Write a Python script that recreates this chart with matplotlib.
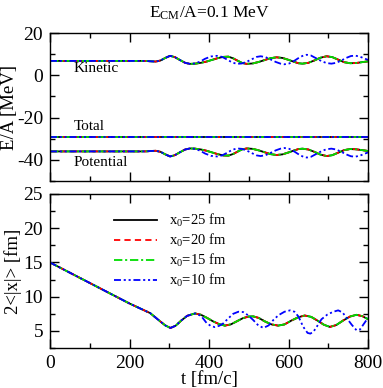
import matplotlib
matplotlib.use("Agg")
import matplotlib.pyplot as plt
from matplotlib.ticker import MultipleLocator

# ---- data ----
# energies per nucleon (top panel); x0 = 25, 20, 15 fm coincide
t_e = [0, 240, 255, 266, 278, 290, 302, 314, 327, 340,
       352, 365, 380, 394, 408, 422, 436, 449, 461, 473,
       484, 495, 510, 525, 540, 555, 570, 585, 600, 615,
       625, 635, 650, 665, 680, 696, 710, 725, 740, 755,
       770, 785, 800]
kin_25 = [6.8, 6.8, 6.6, 6.5, 7.0, 8.2, 9.2, 8.6, 7.2, 5.9,
          5.4, 5.5, 5.9, 6.5, 7.3, 8.1, 8.7, 8.8, 8.0, 6.8,
          5.8, 5.4, 5.6, 6.3, 7.2, 8.1, 8.5, 8.2, 7.3, 6.3,
          5.7, 5.5, 5.9, 7.0, 8.3, 9.0, 8.6, 7.4, 6.2, 5.7,
          5.8, 6.2, 6.6]
pot_25 = [-36.0, -36.0, -35.8, -35.7, -36.2, -37.4, -38.4, -37.8, -36.4, -35.1,
          -34.6, -34.7, -35.1, -35.7, -36.5, -37.3, -37.9, -38.0, -37.2, -36.0,
          -35.0, -34.6, -34.8, -35.5, -36.4, -37.3, -37.7, -37.4, -36.5, -35.5,
          -34.9, -34.7, -35.1, -36.2, -37.5, -38.2, -37.8, -36.6, -35.4, -34.9,
          -35.0, -35.4, -35.8]
kin_20, pot_20 = kin_25, pot_25
kin_15, pot_15 = kin_25, pot_25

t_e10 = [0, 240, 255, 266, 278, 290, 302, 314, 327, 340,
         352, 365, 378, 390, 405, 420, 433, 445, 458, 470,
         483, 496, 510, 520, 530, 542, 555, 568, 580, 590,
         602, 615, 628, 638, 646, 656, 668, 682, 695, 708,
         720, 733, 745, 757, 768, 780, 790, 800]
kin_10 = [6.8, 6.8, 6.6, 6.5, 7.0, 8.2, 9.2, 8.6, 7.2, 5.9,
          5.4, 5.6, 6.5, 7.8, 8.9, 9.2, 8.7, 7.5, 6.1, 5.4,
          5.6, 6.5, 7.8, 8.7, 9.0, 8.6, 7.5, 6.3, 5.5, 5.2,
          5.6, 6.9, 8.5, 9.4, 9.7, 9.4, 8.2, 6.8, 5.8, 5.5,
          5.9, 7.0, 8.2, 9.1, 9.3, 8.8, 8.0, 7.3]
pot_10 = [-36.0, -36.0, -35.8, -35.7, -36.2, -37.4, -38.4, -37.8, -36.4, -35.1,
          -34.6, -34.8, -35.7, -37.0, -38.1, -38.4, -37.9, -36.7, -35.3, -34.6,
          -34.8, -35.7, -37.0, -37.9, -38.2, -37.8, -36.7, -35.5, -34.7, -34.4,
          -34.8, -36.1, -37.7, -38.6, -38.9, -38.6, -37.4, -36.0, -35.0, -34.7,
          -35.1, -36.2, -37.4, -38.3, -38.5, -38.0, -37.2, -36.5]

t_tot = [0, 800]
tot = [-29.2, -29.2]

# 2<|x|> (bottom panel)
t_r = [0, 100, 200, 226, 252, 277, 290, 303, 316, 330,
       345, 365, 380, 395, 410, 425, 440, 455, 470, 485,
       500, 511, 525, 540, 557, 574, 590, 607, 625, 641,
       657, 673, 689, 704, 720, 737, 755, 771, 786, 800]
r_25 = [15.0, 12.0, 9.0, 8.3, 7.6, 6.4, 5.8, 5.43, 5.75, 6.5,
        7.2, 7.55, 7.35, 6.9, 6.4, 6.0, 5.77, 5.95, 6.4, 6.85,
        7.1, 7.12, 6.9, 6.4, 5.95, 5.77, 5.95, 6.5, 7.0, 7.25,
        7.05, 6.5, 5.9, 5.58, 5.85, 6.5, 7.1, 7.35, 7.15, 6.7]
r_20 = r_25
r_15 = r_25

t_r10 = [0, 100, 200, 226, 252, 277, 290, 303, 316, 330,
         345, 365, 380, 394, 405, 415, 426, 436, 448, 461,
         474, 486, 498, 511, 524, 537, 550, 562, 575, 590,
         604, 615, 625, 637, 648, 655, 663, 671, 683, 698,
         713, 725, 736, 746, 759, 771, 780, 788, 800]
r_10 = [15.0, 12.0, 9.0, 8.3, 7.6, 6.4, 5.8, 5.43, 5.75, 6.5,
        7.2, 7.55, 7.2, 6.15, 5.7, 5.55, 5.75, 6.1, 6.8, 7.5,
        7.8, 7.75, 7.3, 6.6, 5.8, 5.43, 5.8, 6.6, 7.3, 7.8,
        8.0, 7.8, 7.1, 5.6, 4.7, 4.6, 4.9, 5.6, 6.7, 7.4,
        7.8, 8.0, 7.7, 6.9, 5.9, 5.1, 5.2, 5.9, 6.9]

labels = [r"x$_0$=25 fm", r"x$_0$=20 fm", r"x$_0$=15 fm", r"x$_0$=10 fm"]
colors = ["black", "#ff0000", "#00dd00", "#0000ff"]
styles = ["-", (0, (4.5, 3)), (0, (6, 2, 1.5, 2)), (0, (5, 2, 1.5, 2, 1.5, 2))]

plt.rcParams["font.family"] = ["Liberation Serif", "DejaVu Serif"]
plt.rcParams["mathtext.fontset"] = "custom"
plt.rcParams["mathtext.rm"] = "Liberation Serif"
plt.rcParams["mathtext.it"] = "Liberation Serif:italic"
plt.rcParams["lines.scale_dashes"] = False
plt.rcParams["axes.unicode_minus"] = False

fig = plt.figure(figsize=(3.83, 3.88), dpi=100)
ax1 = fig.add_axes([50 / 383, 1 - 181 / 388, 318 / 383, 148 / 388])
ax2 = fig.add_axes([50 / 383, 1 - 348 / 388, 318 / 383, 154 / 388])

energy_sets = [(t_e, kin_25, pot_25), (t_e, kin_20, pot_20),
               (t_e, kin_15, pot_15), (t_e10, kin_10, pot_10)]
size_sets = [(t_r, r_25), (t_r, r_20), (t_r, r_15), (t_r10, r_10)]

lw = 1.3
for (tt, k, p), c, ls in zip(energy_sets, colors, styles):
    ax1.plot(tt, k, color=c, linestyle=ls, lw=lw)
    ax1.plot(tt, p, color=c, linestyle=ls, lw=lw)
    ax1.plot(t_tot, tot, color=c, linestyle=ls, lw=lw)

for (tt, r), c, ls, lab in zip(size_sets, colors, styles, labels):
    ax2.plot(tt, r, color=c, linestyle=ls, lw=lw, label=lab)

ax1.set_xlim(0, 800)
ax1.set_ylim(-50, 20)
ax2.set_xlim(0, 800)
ax2.set_ylim(2.5, 25)

ax1.xaxis.set_major_locator(MultipleLocator(200))
ax1.xaxis.set_minor_locator(MultipleLocator(100))
ax1.yaxis.set_major_locator(MultipleLocator(20))
ax1.yaxis.set_minor_locator(MultipleLocator(10))
ax2.xaxis.set_major_locator(MultipleLocator(200))
ax2.xaxis.set_minor_locator(MultipleLocator(100))
ax2.yaxis.set_major_locator(MultipleLocator(5))
ax2.yaxis.set_minor_locator(MultipleLocator(2.5))
ax1.tick_params(labelbottom=False)

for ax in (ax1, ax2):
    ax.tick_params(which="both", direction="in", top=True, right=True,
                   labelsize=14, width=1.0)
    ax.tick_params(which="major", length=6.5, pad=5)
    ax.tick_params(which="minor", length=3.5)
    for s in ax.spines.values():
        s.set_linewidth(1.0)

ax1.text(60, 3.0, "Kinetic", fontsize=11, va="center")
ax1.text(60, -24.3, "Total", fontsize=11, va="center")
ax1.text(60, -41.1, "Potential", fontsize=11, va="center")

ax1.set_ylabel("E/A [MeV]", fontsize=13.5)
ax1.yaxis.set_label_coords(-0.1, 0.5)
ax2.set_ylabel("2<|x|> [fm]", fontsize=13.5)
ax2.yaxis.set_label_coords(-0.088, 0.5)
ax2.set_xlabel("t [fm/c]", fontsize=13.5)
ax2.xaxis.set_label_coords(0.5, -0.148)

fig.text(209 / 383, 1 - 13 / 388, r"E$_{\rm CM}$/A=0.1 MeV", fontsize=12.5,
         ha="center", va="center")

ax2.legend(loc="upper left", bbox_to_anchor=(0.2, 0.885), frameon=False,
           fontsize=10.5, handlelength=3.0, handletextpad=0.8,
           labelspacing=0.2, borderpad=0, borderaxespad=0)

fig.savefig("out.png", dpi=100)
